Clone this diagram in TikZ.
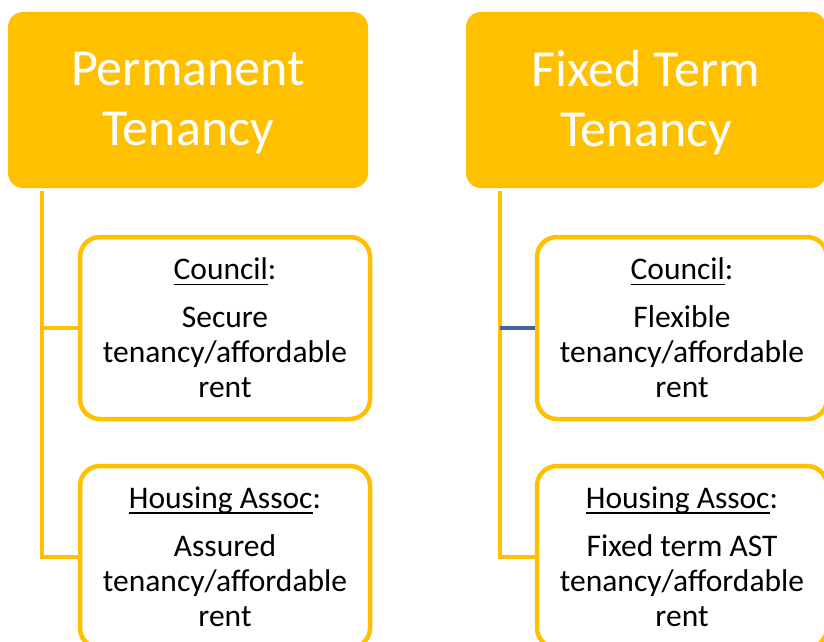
\documentclass[tikz,border=0pt]{standalone}
\usepackage{fontspec}
\setmainfont{Carlito}
\newsavebox\ubox
\newcommand\undertext[1]{\sbox\ubox{#1}\rlap{\rule[-5.5pt]{\wd\ubox}{1.8pt}}\usebox\ubox}
\definecolor{gold}{HTML}{FFC000}
\definecolor{steel}{HTML}{4169A0}
\begin{document}
\begin{tikzpicture}[x=1pt,y=-1pt,
	head/.style={fill=gold,rounded corners=15pt,minimum width=360pt,minimum height=176pt,text=white,align=center,inner sep=0pt,text depth=3pt,font=\fontsize{52}{60}\selectfont},
	leaf/.style={draw=gold,line width=4.5pt,fill=white,rounded corners=20pt,minimum width=290pt,minimum height=182pt,align=center,inner sep=0pt,font=\fontsize{31.5}{35}\selectfont},
	trunk/.style={draw=gold,line width=4pt}]
	\clip (0,0) rectangle (824,642);
	% permanent tenancy
	\node[head] (permH) at (188,100) {Permanent\\Tenancy};
	\node[leaf] (permC) at (225,328) {\undertext{Council}:\\[13pt]Secure\\tenancy/affordable\\rent};
	\node[leaf] (permA) at (225,557) {\undertext{Housing Assoc}:\\[13pt]Assured\\tenancy/affordable\\rent};
	\coordinate (permT) at ([xshift=34pt,yshift=-3pt]permH.south west);
	\draw[trunk] (permT) |- (permA.west);
	\draw[trunk] (permT |- permC.west) -- (permC.west);
	% fixed term tenancy
	\node[head] (fixH) at (646,100) {Fixed Term\\Tenancy};
	\node[leaf] (fixC) at (682,328) {\undertext{Council}:\\[13pt]Flexible\\tenancy/affordable\\rent};
	\node[leaf] (fixA) at (682,557) {\undertext{Housing Assoc}:\\[13pt]Fixed term AST\\tenancy/affordable\\rent};
	\coordinate (fixT) at ([xshift=34pt,yshift=-3pt]fixH.south west);
	\draw[trunk] (fixT) |- (fixA.west);
	\draw[trunk,draw=steel] (fixT |- fixC.west) -- (fixC.west);
\end{tikzpicture}
\end{document}
